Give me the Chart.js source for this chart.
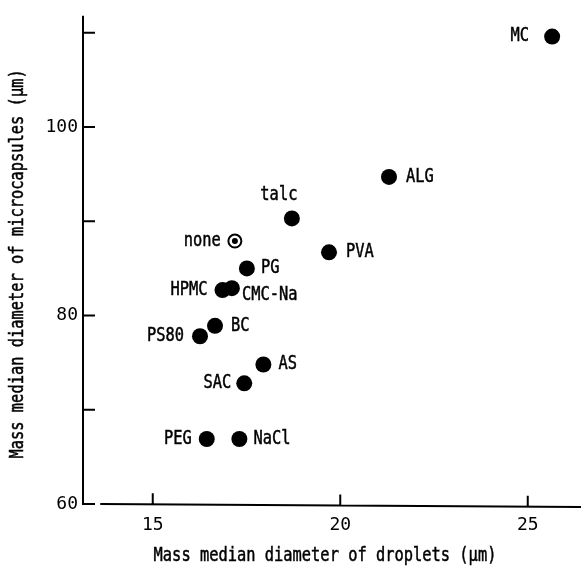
<!DOCTYPE html>
<html>
<head>
<meta charset="utf-8">
<script src="https://cdn.jsdelivr.net/npm/chart.js@4.4.1/dist/chart.umd.min.js"></script>
<style>
  html, body { margin: 0; padding: 0; background: #fff; }
  #wrap { width: 581px; height: 568px; }
</style>
</head>
<body>
<div id="wrap"><canvas id="chart1"></canvas></div>
<script>
// values
var names = ['MC', 'ALG', 'PVA', 'talc', 'PG', 'CMC-Na', 'HPMC', 'BC', 'PS80', 'AS', 'SAC', 'PEG', 'NaCl'];
var dropletSize = [25.65, 21.3, 19.7, 18.71, 17.51, 17.11, 16.86, 16.66, 16.26, 17.95, 17.44, 16.44, 17.31];
var capsuleSize = [109.6, 94.7, 86.7, 90.3, 85.0, 82.9, 82.7, 78.9, 77.8, 74.8, 72.8, 66.9, 66.9];
var noneName = 'none';
var noneDroplet = [17.19];
var noneCapsule = [87.9];
var xTicks = [15, 20, 25];
var yTicks = [60, 70, 80, 90, 100, 110];
var yLabels = [60, 80, 100];
var xTitle = 'Mass median diameter of droplets (\u03bcm)';
var yTitle = 'Mass median diameter of microcapsules (\u03bcm)';

var ink = '#000';

function toPoints(xs, ys) {
  return xs.map(function (x, i) { return { x: x, y: ys[i] }; });
}

// where each name sits next to its dot
var labelOffsets = {
  'MC': [-23, 0, 'right'],
  'ALG': [17, 0, 'left'],
  'PVA': [17, 0, 'left'],
  'talc': [-13, -23, 'center'],
  'PG': [14, 0, 'left'],
  'CMC-Na': [10, 7, 'left'],
  'HPMC': [-15, 0, 'right'],
  'BC': [16, 0, 'left'],
  'PS80': [-16, 0, 'right'],
  'AS': [15, 0, 'left'],
  'SAC': [-13, 0, 'right'],
  'PEG': [-15, 0, 'right'],
  'NaCl': [14, 0, 'left'],
  'none': [-14, 0, 'right']
};

// narrow typewriter-like text
function drawText(ctx, text, x, y, align, rot) {
  ctx.save();
  ctx.translate(x, y);
  if (rot) ctx.rotate(rot);
  ctx.scale(0.81, 1);
  ctx.font = '19px "DejaVu Sans Mono"';
  ctx.fillStyle = ink;
  ctx.strokeStyle = ink;
  ctx.lineWidth = 0.5;
  ctx.textAlign = align;
  ctx.textBaseline = 'middle';
  ctx.fillText(text, 0, 0);
  ctx.strokeText(text, 0, 0);
  ctx.restore();
}

function drawLabel(ctx, text, px, py) {
  var o = labelOffsets[text] || [14, 0, 'left'];
  drawText(ctx, text, px + o[0], py + o[1], o[2], 0);
}

var axisPlugin = {
  id: 'axisLines',
  beforeDatasetsDraw: function (chart) {
    var ctx = chart.ctx;
    var xs = chart.scales.x, ys = chart.scales.y;
    var area = chart.chartArea;
    ctx.save();
    ctx.strokeStyle = ink;
    ctx.lineWidth = 2;
    // y axis with ticks pointing right
    ctx.beginPath();
    ctx.moveTo(area.left, area.top);
    ctx.lineTo(area.left, ys.getPixelForValue(60));
    yTicks.forEach(function (v) {
      var y = ys.getPixelForValue(v);
      ctx.moveTo(area.left - 1, y);
      ctx.lineTo(area.left + 12, y);
    });
    ctx.stroke();
    // x axis, detached from the y axis, ticks pointing up
    var y0 = ys.getPixelForValue(60);
    var xStart = xs.getPixelForValue(13.6);
    ctx.beginPath();
    ctx.moveTo(xStart, y0);
    ctx.lineTo(area.right, y0 + 3);
    xTicks.forEach(function (v) {
      var x = xs.getPixelForValue(v);
      var yy = y0 + 3 * (x - xStart) / (area.right - xStart);
      ctx.moveTo(x, yy);
      ctx.lineTo(x, yy - 11);
    });
    ctx.stroke();
    ctx.restore();
    // axis titles
    drawText(ctx, xTitle, (area.left + area.right) / 2 - 7, 556, 'center', 0);
    drawText(ctx, yTitle, 18, (area.top + area.bottom) / 2 + 4, 'center', -Math.PI / 2);
  },
  afterDatasetsDraw: function (chart) {
    var ctx = chart.ctx;
    chart.getDatasetMeta(0).data.forEach(function (pt, i) {
      drawLabel(ctx, names[i], pt.x, pt.y);
    });
    var n = chart.getDatasetMeta(1).data[0];
    drawLabel(ctx, noneName, n.x, n.y);
  }
};

var chart = new Chart(document.getElementById('chart1'), {
  type: 'scatter',
  data: {
    datasets: [{
      data: toPoints(dropletSize, capsuleSize),
      pointRadius: 8,
      pointBackgroundColor: ink,
      pointBorderWidth: 0
    }, {
      // inner dot of the "none" marker (drawn after the ring)
      data: toPoints(noneDroplet, noneCapsule),
      pointRadius: 3,
      pointBackgroundColor: ink,
      pointBorderWidth: 0
    }, {
      // ring of the "none" marker
      data: toPoints(noneDroplet, noneCapsule),
      pointRadius: 6.5,
      pointBackgroundColor: '#fff',
      pointBorderColor: ink,
      pointBorderWidth: 2
    }]
  },
  plugins: [axisPlugin],
  options: {
    responsive: true,
    maintainAspectRatio: false,
    animation: false,
    events: [],
    layout: { autoPadding: false, padding: { top: 13, right: 0, left: 0, bottom: 0 } },
    plugins: {
      legend: { display: false },
      tooltip: { enabled: false }
    },
    scales: {
      x: {
        type: 'linear',
        min: 13.14,
        max: 26.42,
        grid: { display: false, drawTicks: false },
        border: { display: false },
        afterBuildTicks: function (scale) {
          scale.ticks = xTicks.map(function (v) { return { value: v }; });
        },
        afterFit: function (scale) { scale.height = 64; },
        ticks: {
          color: ink,
          padding: 11,
          font: { family: 'DejaVu Sans Mono', size: 18 }
        }
      },
      y: {
        type: 'linear',
        min: 60,
        max: 111.8,
        grid: { display: false, drawTicks: false },
        border: { display: false },
        afterBuildTicks: function (scale) {
          scale.ticks = yLabels.map(function (v) { return { value: v }; });
        },
        afterFit: function (scale) { scale.width = 83; },
        ticks: {
          color: ink,
          padding: 5,
          font: { family: 'DejaVu Sans Mono', size: 18 }
        }
      }
    }
  }
});
</script>
</body>
</html>
